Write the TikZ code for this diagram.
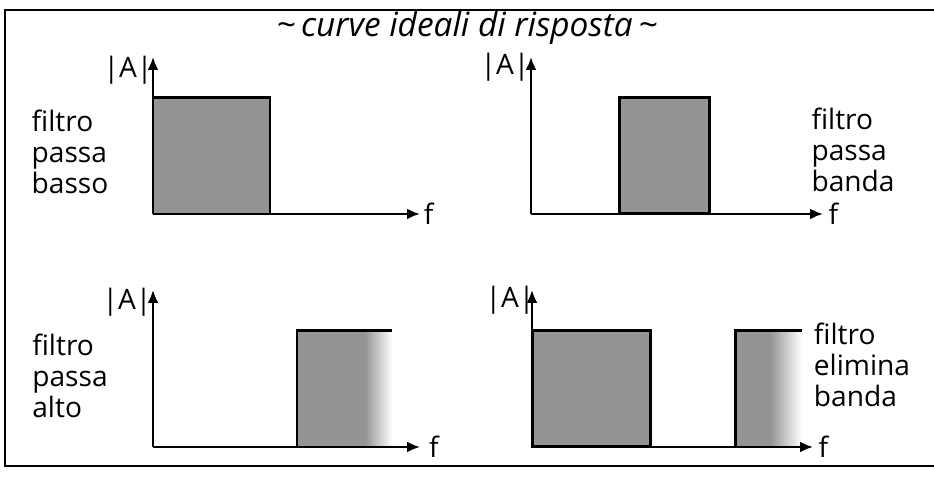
\documentclass[tikz,border=0pt]{standalone}
\usepackage{fontspec}
\setmainfont{Open Sans}
\usetikzlibrary{arrows.meta,positioning}

\tikzset{
  axis/.style={-{Latex[length=2.6mm,width=2.2mm]},line width=1.3pt},
  edge/.style={line width=1.7pt},
  band/.style={fill=black!42},
  tag/.style={font=\fontsize{16}{17.5}\selectfont,align=left,inner sep=0pt},
  ax/.style={font=\fontsize{16}{16}\selectfont,inner sep=1pt},
}

\begin{document}
\begin{tikzpicture}
\useasboundingbox (0,0) rectangle (18.68,9.54);
% frame and title
\draw[line width=1.6pt] (18.70,9.34) -- (0.10,9.34) -- (0.10,0.22) -- (18.70,0.22);
\node[font=\itshape\fontsize{19}{22}\selectfont] (title) at (9.34,8.98) {\textasciitilde\,curve ideali di risposta\,\textasciitilde};

% passa basso
\coordinate (o1) at (3.06,5.26);
\coordinate (y1) at (3.06,8.40);
\coordinate (x1) at (8.40,5.26);
\fill[band] (o1) rectangle (5.40,7.58);
\draw[edge] (o1) |- (5.40,7.58) -- (5.40,5.26);
\draw[axis] (o1) -- (y1);
\draw[axis] (o1) -- (x1);
\node[ax] (a1) at (2.56,8.14) {|A|};
\node[ax,right=1pt of x1] (f1) {f};
\node[tag] (t1) at (1.40,6.50) {filtro\\passa\\basso};

% passa banda
\coordinate (o2) at (10.62,5.26);
\coordinate (y2) at (10.62,8.40);
\coordinate (x2) at (16.46,5.26);
\draw[edge,band] (12.38,5.26) rectangle (14.18,7.58);
\draw[axis] (o2) -- (y2);
\draw[axis] (o2) -- (x2);
\node[ax] (a2) at (10.10,8.20) {|A|};
\node[ax,right=2pt of x2] (f2) {f};
\node[tag] (t2) at (17.06,6.54) {filtro\\passa\\banda};

% passa alto
\coordinate (o3) at (3.06,0.60);
\coordinate (y3) at (3.06,3.74);
\coordinate (x3) at (8.40,0.60);
\fill[band] (5.94,0.60) rectangle (7.30,2.92);
\shade[left color=black!42,right color=white] (7.30,0.60) rectangle (7.84,2.92);
\draw[edge] (5.94,0.60) |- (7.84,2.92);
\draw[axis] (o3) -- (y3);
\draw[axis] (o3) -- (x3);
\node[ax] (a3) at (2.54,3.50) {|A|};
\node[ax,right=4pt of x3] (f3) {f};
\node[tag] (t3) at (1.40,2.02) {filtro\\passa\\alto};

% elimina banda
\coordinate (o4) at (10.64,0.60);
\coordinate (y4) at (10.64,3.74);
\coordinate (x4) at (16.26,0.60);
\draw[edge,band] (o4) rectangle (13.00,2.92);
\fill[band] (14.70,0.60) rectangle (15.40,2.92);
\shade[left color=black!42,right color=white] (15.40,0.60) rectangle (16.04,2.92);
\draw[edge] (14.70,0.60) |- (16.04,2.92);
\draw[axis] (o4) -- (y4);
\draw[axis] (o4) -- (x4);
\node[ax] (a4) at (10.20,3.54) {|A|};
\node[ax,right=2pt of x4] (f4) {f};
\node[tag] (t4) at (17.24,2.24) {filtro\\elimina\\banda};
\end{tikzpicture}
\end{document}
